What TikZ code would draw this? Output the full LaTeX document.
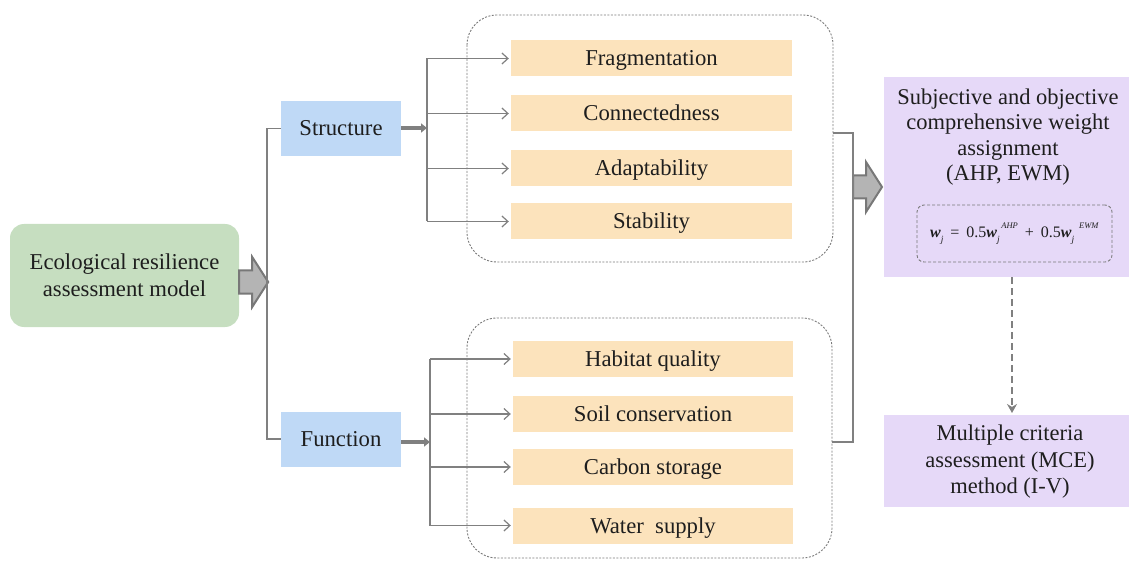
\documentclass[tikz,border=0pt]{standalone}
\usepackage{fontspec}
\setmainfont{Liberation Serif}
\usetikzlibrary{arrows.meta}
\definecolor{cgreen}{HTML}{C6DEC0}
\definecolor{cblue}{HTML}{BFD9F6}
\definecolor{corange}{HTML}{FCE3BC}
\definecolor{cpurple}{HTML}{E6D9F8}
\definecolor{cline}{HTML}{808080}
\definecolor{cdash}{HTML}{7A7A7A}
\definecolor{ctext}{HTML}{1E1E1E}
\definecolor{cfat}{HTML}{B4B4B4}
\definecolor{cfatb}{HTML}{787878}
\newcommand{\wsym}{\textbf{\textit{w}}\raisebox{-0.3em}{\fontsize{9.5}{9.5}\selectfont\textit{j}}}
\newcommand{\wsup}[1]{\raisebox{0.55em}{\fontsize{8.5}{8.5}\selectfont\textit{#1}}}
\begin{document}
\begin{tikzpicture}[x=1pt,y=-1pt,
  every node/.style={text=ctext,font=\fontsize{22.7}{27}\selectfont,inner sep=0pt,align=center},
  oneline/.style={text height=15pt,text depth=0pt},
  greenbox/.style={fill=cgreen,rounded corners=14pt,minimum width=229pt,minimum height=103pt},
  bluebox/.style={oneline,fill=cblue,minimum width=120pt,minimum height=55pt},
  orangebox/.style={oneline,fill=corange,minimum width=281pt,minimum height=36pt},
  purplebox/.style={fill=cpurple,minimum width=245pt},
  container/.style={draw=cdash,line width=0.9pt,dash pattern=on 2pt off 1.5pt,rounded corners=30pt},
  conn/.style={draw=cline,line width=1.3pt},
  thinarrow/.style={conn,-{Straight Barb[length=6pt,width=11pt,line width=1.2pt]}},
  thickarrow/.style={draw=cline,line width=4pt,-{Triangle[length=6pt,width=9pt]}},
  dasharrow/.style={draw=cline,line width=2.2pt,dash pattern=on 7pt off 4pt,-{Stealth[length=9pt,width=10pt]}},
  fatarrow/.pic={\filldraw[fill=cfat,draw=cfatb,line width=2pt,line join=miter]
     (0,-11.5) -- (13,-11.5) -- (13,-25) -- (29,0) -- (13,25) -- (13,11.5) -- (0,11.5) -- cycle;}
]
\useasboundingbox (0,0) rectangle (1129,561);

% containers
\draw[container] (467,15) rectangle (833,262);
\draw[container] (467,318) rectangle (832,558);

% main nodes
\node[greenbox] (eco) at (124.5,275.5) {Ecological resilience\\assessment model};
\node[bluebox] (str) at (341,128.5) {Structure};
\node[bluebox] (fun) at (341,439) {Function};

\node[orangebox] (f1) at (651.5,58.5) {Fragmentation};
\node[orangebox] (f2) at (651.5,113.5) {Connectedness};
\node[orangebox] (f3) at (651.5,168.5) {Adaptability};
\node[orangebox] (f4) at (651.5,221.5) {Stability};

\node[orangebox,minimum width=280pt] (g1) at (653,359) {Habitat quality};
\node[orangebox,minimum width=280pt] (g2) at (653,414) {Soil conservation};
\node[orangebox,minimum width=280pt] (g3) at (653,467) {Carbon storage};
\node[orangebox,minimum width=280pt] (g4) at (653,525.5) {Water\ \ supply};

\node[purplebox,minimum height=200pt] (p1) at (1006.5,177) {};
\node[purplebox,minimum height=92pt] (p2) at (1006.5,461) {};
\node[fill=none,font=\fontsize{22.5}{25.5}\selectfont] (p1t) at (1008,137)
  {Subjective and objective\\comprehensive weight\\assignment\\(AHP, EWM)};
\node[draw=cdash,line width=0.9pt,dash pattern=on 3pt off 2pt,rounded corners=7pt,
      minimum width=195pt,minimum height=57pt,font=\fontsize{16}{18}\selectfont] (form) at (1014.5,233.5)
  {\wsym\hspace{7pt}=\hspace{7pt}0.5\wsym\hspace{1.5pt}\wsup{AHP}\hspace{7pt}+\hspace{7pt}0.5\wsym\hspace{5pt}\wsup{EWM}};
\node[font=\fontsize{22.5}{26.5}\selectfont] (p2t) at (1010,462)
  {Multiple criteria\\assessment (MCE)\\method (I-V)};

% coordinates
\coordinate (b0) at (267,282);
\coordinate (bs) at (427,128);
\coordinate (bf) at (430,442);
\coordinate (br) at (853,187);

% fat arrows
\pic at ([yshift=-6.5pt]eco.east) {fatarrow};
\pic at (br) {fatarrow};

% left branch
\draw[conn] (str.west) -- (str.west -| b0) -- (fun.west -| b0) -- (fun.west);

% structure branch
\draw[thickarrow] (str.east |- bs) -- (bs);
\draw[conn] (f1.west -| bs) -- (f4.west -| bs);
\foreach \n in {f1,f2,f3,f4} \draw[thinarrow] (\n.west -| bs) -- ([xshift=-2pt]\n.west);

% function branch
\draw[thickarrow] (fun.east |- bf) -- (bf);
\draw[conn] (g1.west -| bf) -- (g4.west -| bf);
\foreach \n in {g1,g2,g3,g4} \draw[thinarrow] (\n.west -| bf) -- ([xshift=-2pt]\n.west);

% right bracket
\draw[conn] (833,133) -- (br |- 0,133) -- (br |- 0,442) -- (832,442);

% dashed arrow
\draw[dasharrow] (1012,277) -- (1012,413);
\end{tikzpicture}
\end{document}
